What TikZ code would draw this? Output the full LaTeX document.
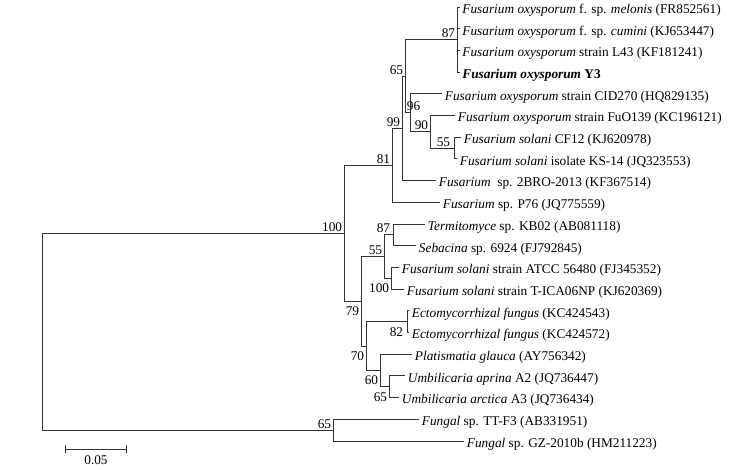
\documentclass[tikz,border=0pt]{standalone}
\usepackage{fontspec}
\setmainfont{Liberation Serif}
\usetikzlibrary{arrows.meta,calc}

\begin{document}
\begin{tikzpicture}[
    x=1pt,y=-1pt,
    font=\fontsize{13.3}{15}\selectfont,
    line width=.9pt
  ]
\useasboundingbox (0,0) rectangle (734,469);

\tikzstyle{leaf}=[anchor=west,inner sep=2.5pt,text height=12.6pt,text depth=0pt]
\tikzstyle{boot}=[inner sep=1.5pt]
\tikzstyle{bootup}=[boot,anchor=south east]
\tikzstyle{bootdn}=[boot,anchor=north east,yshift=-3.5pt]
\tikzstyle{branch}=[draw=black!80]

% internal nodes of the tree
\coordinate (root) at (42,331.7);
\coordinate (n100) at (344,233.3);
\coordinate (n81) at (392,165.4);
\coordinate (n99) at (402,128.4);
\coordinate (n65) at (405,76.2);
\coordinate (n87) at (457,39.6);
\coordinate (n96) at (410,112.8);
\coordinate (n90) at (430,131.8);
\coordinate (n55) at (454,148.1);
\coordinate (n79) at (361,301.3);
\coordinate (n55b) at (384,256.6);
\coordinate (n87b) at (393,234.9);
\coordinate (n100b) at (391,278.3);
\coordinate (n70) at (366,346.1);
\coordinate (n82) at (407,321.7);
\coordinate (n60) at (380,370.5);
\coordinate (n65b) at (389,386.8);
\coordinate (n65c) at (333,430.2);

% leaves
\node[leaf] (melonis) at (459.5,7) {\textit{Fusarium oxysporum} f. sp. \textit{melonis} (FR852561)};
\node[leaf] (cumini) at (459.5,28.7) {\textit{Fusarium oxysporum} f. sp. \textit{cumini} (KJ653447)};
\node[leaf] (L43) at (459.5,50.4) {\textit{Fusarium oxysporum} strain L43 (KF181241)};
\node[leaf] (Y3) at (459.5,72.1) {\textbf{\textit{Fusarium oxysporum} Y3}};
\node[leaf] (CID270) at (442,93.8) {\textit{Fusarium oxysporum} strain CID270 (HQ829135)};
\node[leaf] (FuO139) at (455,115.5) {\textit{Fusarium oxysporum} strain FuO139 (KC196121)};
\node[leaf] (CF12) at (461,137.2) {\textit{Fusarium solani} CF12 (KJ620978)};
\node[leaf] (KS14) at (457,158.9) {\textit{Fusarium solani} isolate KS-14 (JQ323553)};
\node[leaf] (BRO) at (436,180.6) {\textit{Fusarium}\ \ sp. 2BRO-2013 (KF367514)};
\node[leaf] (P76) at (440,202.3) {\textit{Fusarium} sp. P76 (JQ775559)};
\node[leaf] (KB02) at (425,224) {\textit{Termitomyce} sp. KB02 (AB081118)};
\node[leaf] (seb) at (416,245.7) {\textit{Sebacina} sp. 6924 (FJ792845)};
\node[leaf] (ATCC) at (399,267.4) {\textit{Fusarium solani} strain ATCC 56480 (FJ345352)};
\node[leaf] (TICA) at (404,289.1) {\textit{Fusarium solani} strain T-ICA06NP (KJ620369)};
\node[leaf] (ecto1) at (409,310.8) {\textit{Ectomycorrhizal fungus} (KC424543)};
\node[leaf] (ecto2) at (409,332.5) {\textit{Ectomycorrhizal fungus} (KC424572)};
\node[leaf] (plat) at (412,354.2) {\textit{Platismatia glauca} (AY756342)};
\node[leaf] (aprina) at (405,375.9) {\textit{Umbilicaria aprina} A2 (JQ736447)};
\node[leaf] (arctica) at (399,397.6) {\textit{Umbilicaria arctica} A3 (JQ736434)};
\node[leaf] (TTF3) at (419,419.3) {\textit{Fungal} sp. TT-F3 (AB331951)};
\node[leaf] (GZ) at (464,441) {\textit{Fungal} sp. GZ-2010b (HM211223)};

% branches
\draw[branch] (root) |- (n100);
\draw[branch] (root) |- (n65c);
\draw[branch] (n100) |- (n81);
\draw[branch] (n100) |- (n79);
\draw[branch] (n81) |- (n99);
\draw[branch] (n81) |- (P76.west);
\draw[branch] (n99) |- (n65);
\draw[branch] (n99) |- (BRO.west);
\draw[branch] (n65) |- (n87);
\draw[branch] (n65) |- (n96);
\draw[branch] (n87) |- (melonis.west);
\draw[branch] (n87) |- (cumini.west);
\draw[branch] (n87) |- (L43.west);
\draw[branch] (n87) |- (Y3.west);
\draw[branch] (n96) |- (CID270.west);
\draw[branch] (n96) |- (n90);
\draw[branch] (n90) |- (FuO139.west);
\draw[branch] (n90) |- (n55);
\draw[branch] (n55) |- (CF12.west);
\draw[branch] (n55) |- (KS14.west);
\draw[branch] (n79) |- (n55b);
\draw[branch] (n79) |- (n70);
\draw[branch] (n55b) |- (n87b);
\draw[branch] (n55b) |- (n100b);
\draw[branch] (n87b) |- (KB02.west);
\draw[branch] (n87b) |- (seb.west);
\draw[branch] (n100b) |- (ATCC.west);
\draw[branch] (n100b) |- (TICA.west);
\draw[branch] (n70) |- (n82);
\draw[branch] (n70) |- (n60);
\draw[branch] (n82) |- (ecto1.west);
\draw[branch] (n82) |- (ecto2.west);
\draw[branch] (n60) |- (plat.west);
\draw[branch] (n60) |- (n65b);
\draw[branch] (n65b) |- (aprina.west);
\draw[branch] (n65b) |- (arctica.west);
\draw[branch] (n65c) |- (TTF3.west);
\draw[branch] (n65c) |- (GZ.west);

% bootstrap values
\node[bootup] (b100) at (n100) {100};
\node[bootup] (b81) at (n81) {81};
\node[bootup] (b99) at (n99) {99};
\node[bootup] (b65) at (n65) {65};
\node[bootup] (b87) at (n87) {87};
\node[boot,anchor=south west] (b96) at ([xshift=-5pt]n96) {96};
\node[bootup] (b90) at (n90) {90};
\node[bootup,xshift=-2pt] (b55) at (n55) {55};
\node[bootdn] (b79) at (n79) {79};
\node[bootup] (b55b) at (n55b) {55};
\node[bootup,xshift=-1pt] (b87b) at (n87b) {87};
\node[bootdn] (b100b) at (n100b) {100};
\node[bootdn] (b70) at (n70) {70};
\node[bootdn,xshift=-2pt] (b82) at (n82) {82};
\node[bootdn] (b60) at (n60) {60};
\node[bootdn] (b65b) at (n65b) {65};
\node[bootup] (b65c) at (n65c) {65};

% scale bar
\coordinate (sb0) at (65,449);
\coordinate (sb1) at (127,449);
\draw[branch,{Bar[width=8pt]}-{Bar[width=8pt]}] (sb0) -- (sb1);
\node[anchor=north,inner sep=1pt] (sbtext) at ($(sb0)!.5!(sb1)+(0,5)$) {0.05};

\end{tikzpicture}
\end{document}
